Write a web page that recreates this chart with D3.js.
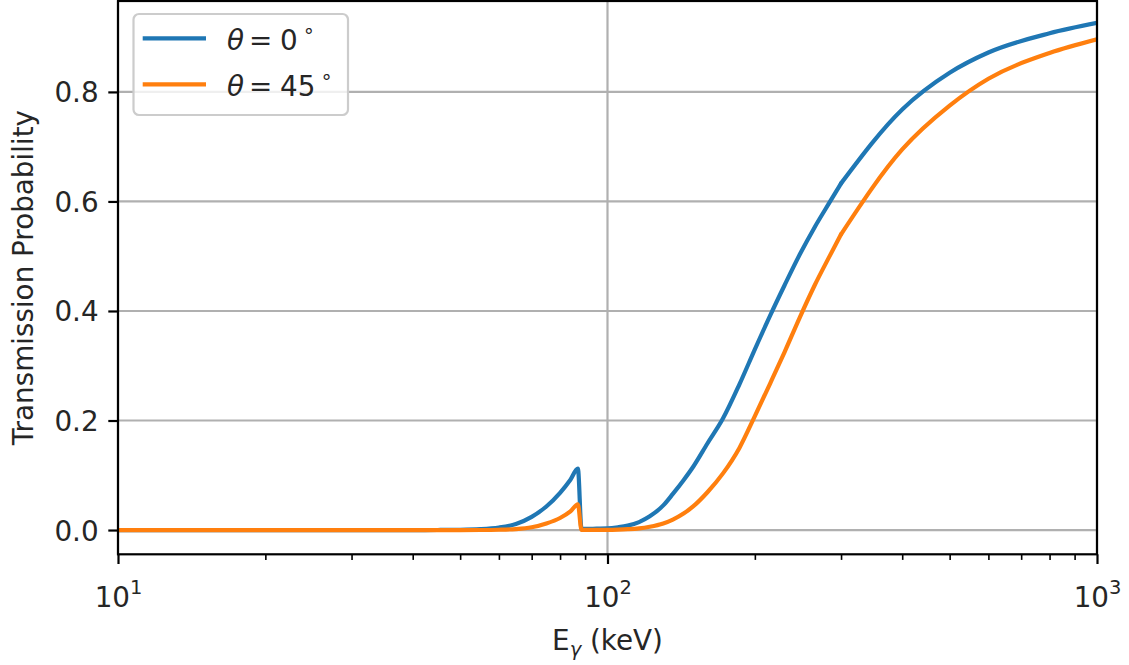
<!DOCTYPE html>
<html>
<head>
<meta charset="utf-8">
<script src="https://cdn.jsdelivr.net/npm/d3@7"></script>
<style>
  html, body { margin: 0; padding: 0; background: #ffffff; }
  svg { display: block; font-family: "DejaVu Sans", sans-serif; }
</style>
</head>
<body>
<svg id="chart" width="1129" height="665"></svg>
<script>
// ---------- data ----------
const energy = [10, 20, 30, 40, 45, 50, 55, 60, 65, 70, 75, 80, 84, 87, 88.5, 90, 95, 100, 105, 110, 116, 122, 130, 136, 143, 150, 160, 172, 186, 200, 215, 230, 247, 265, 285, 300, 400, 500, 600, 800, 1000];
const theta0 = [0, 0, 0, 0, 0.0001, 0.0004, 0.0015, 0.0045, 0.011, 0.024, 0.043, 0.068, 0.092, 0.112, 0.002, 0.002, 0.0025, 0.003, 0.005, 0.008, 0.0145, 0.025, 0.045, 0.066, 0.091, 0.117, 0.158, 0.203, 0.266, 0.33, 0.392, 0.447, 0.503, 0.553, 0.6, 0.633, 0.768, 0.835, 0.872, 0.907, 0.926];
const theta45 = [0, 0, 0, 0, 0, 0, 0.0001, 0.0005, 0.0017, 0.005, 0.012, 0.022, 0.034, 0.047, 0.0002, 0.0002, 0.0003, 0.0004, 0.0008, 0.0015, 0.003, 0.006, 0.012, 0.019, 0.03, 0.044, 0.069, 0.103, 0.15, 0.208, 0.268, 0.325, 0.388, 0.447, 0.502, 0.54, 0.695, 0.775, 0.824, 0.871, 0.896];
const seriesNames = ["0", "45"];
const seriesColors = ["#1f77b4", "#ff7f0e"];
const xMajorTicks = [10, 100, 1000];
const xTickExponents = ["1", "2", "3"];
const xMinorTicks = [20, 30, 40, 50, 60, 70, 80, 90, 200, 300, 400, 500, 600, 700, 800, 900];
const yTicks = [0.0, 0.2, 0.4, 0.6, 0.8];
const yLabel = "Transmission Probability";

// ---------- layout ----------
const FS = 27.8;
const L = 118, R = 1097, T = 1, B = 554.3;
const svg = d3.select("#chart");

const x = d3.scaleLog().domain([10, 1000]).range([L, R]);
const y = d3.scaleLinear().domain([-0.0443, 0.966]).range([B, T]);

// grid
const grid = svg.append("g");
grid.selectAll("line.gx").data(xMajorTicks).join("line")
  .attr("x1", d => x(d)).attr("x2", d => x(d)).attr("y1", T).attr("y2", B)
  .attr("stroke", "#b0b0b0").attr("stroke-width", 2.2);
grid.selectAll("line.gy").data(yTicks).join("line")
  .attr("x1", L).attr("x2", R).attr("y1", d => y(d)).attr("y2", d => y(d))
  .attr("stroke", "#b0b0b0").attr("stroke-width", 2.2);

// lines: two smooth pieces joined at 300 keV (where the reference shows a slight kink)
const series = [theta0, theta45];
const smooth = d3.line().x(d => x(d[0])).y(d => y(d[1])).curve(d3.curveMonotoneX);
svg.append("clipPath").attr("id", "clip").append("rect")
  .attr("x", L).attr("y", T).attr("width", R - L).attr("height", B - T);
series.forEach((s, i) => {
  const pts = energy.map((e, j) => [e, s[j]]);
  const low = pts.filter(p => p[0] <= 300);
  const high = pts.filter(p => p[0] >= 300);
  [low, high].forEach(seg => {
    svg.append("path")
      .datum(seg)
      .attr("d", smooth)
      .attr("fill", "none")
      .attr("stroke", seriesColors[i])
      .attr("stroke-width", 4.2)
      .attr("stroke-linejoin", "round")
      .attr("stroke-linecap", "round")
      .attr("clip-path", "url(#clip)");
  });
});

// axes
const xAxis = svg.append("g").attr("transform", `translate(0,${B})`)
  .call(d3.axisBottom(x).tickValues(xMajorTicks).tickSize(9.7).tickPadding(9.7).tickFormat(() => ""));
xAxis.select(".domain").remove();
xAxis.selectAll(".tick line").attr("stroke", "#000").attr("stroke-width", 2.2);
xAxis.selectAll(".tick text").each(function(d, i) {
  const t = d3.select(this);
  t.attr("y", 0).attr("dy", 0).attr("transform", "translate(0,52.5)")
   .attr("font-size", FS).attr("fill", "#262626").attr("font-family", "DejaVu Sans");
  t.append("tspan").text("10");
  t.append("tspan").attr("dy", -13).attr("font-size", FS * 0.7).text(xTickExponents[i]);
});
const xMinor = svg.append("g").attr("transform", `translate(0,${B})`)
  .call(d3.axisBottom(x).tickValues(xMinorTicks).tickSize(5.6).tickFormat(""));
xMinor.select(".domain").remove();
xMinor.selectAll(".tick line").attr("stroke", "#000").attr("stroke-width", 1.6);

const yAxis = svg.append("g").attr("transform", `translate(${L},0)`)
  .call(d3.axisLeft(y).tickValues(yTicks).tickSize(9.7).tickPadding(9.7).tickFormat(d3.format(".1f")));
yAxis.select(".domain").remove();
yAxis.selectAll(".tick line").attr("stroke", "#000").attr("stroke-width", 2.2);
yAxis.selectAll(".tick text").attr("font-size", FS).attr("fill", "#262626")
  .attr("font-family", "DejaVu Sans").attr("dy", "0.36em");

// frame
svg.append("rect").attr("x", L).attr("y", T).attr("width", R - L).attr("height", B - T)
  .attr("fill", "none").attr("stroke", "#000").attr("stroke-width", 2.2);

// axis labels
svg.append("text").attr("transform", `translate(33,${(T + B) / 2}) rotate(-90)`)
  .attr("text-anchor", "middle").attr("font-size", FS).attr("fill", "#262626")
  .text(yLabel);
const xl = svg.append("text").attr("x", (L + R) / 2).attr("y", 650)
  .attr("text-anchor", "middle").attr("font-size", FS).attr("fill", "#262626");
xl.append("tspan").text("E");
xl.append("tspan").attr("dy", 6).attr("font-size", FS * 0.7).attr("font-style", "italic").text("γ");
xl.append("tspan").attr("dy", -6).text(" (keV)");

// legend
const lg = svg.append("g");
lg.append("rect").attr("x", 133.5).attr("y", 14).attr("width", 214.5).attr("height", 101)
  .attr("rx", 5.5).attr("fill", "#ffffff").attr("fill-opacity", 0.8)
  .attr("stroke", "#cccccc").attr("stroke-width", 2.2);
seriesNames.forEach((nm, i) => {
  const cy = 38.3 + i * 46;
  lg.append("line").attr("x1", 142.7).attr("x2", 206).attr("y1", cy).attr("y2", cy)
    .attr("stroke", seriesColors[i]).attr("stroke-width", 4.2);
  const t = lg.append("text").attr("y", cy + 11.7).attr("font-size", FS).attr("fill", "#262626");
  t.append("tspan").attr("x", 227).attr("font-style", "italic").text("θ");
  t.append("tspan").attr("x", 249).text("=");
  t.append("tspan").attr("x", 280).text(nm);
  t.append("tspan").attr("dx", 5).attr("dy", -13).attr("font-size", FS * 0.7).text("∘");
});
</script>
</body>
</html>
